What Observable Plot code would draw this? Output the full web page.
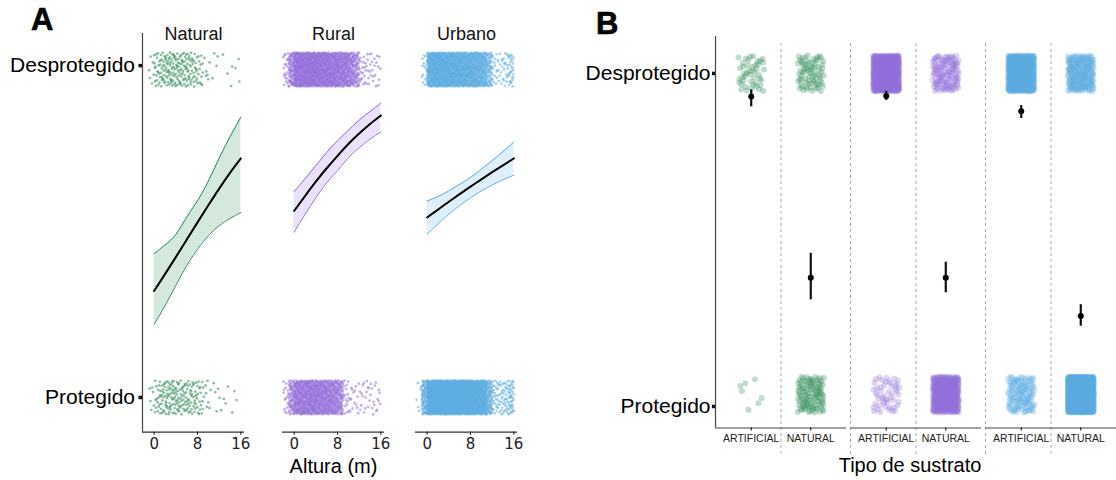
<!DOCTYPE html>
<html><head><meta charset="utf-8">
<script src="https://cdn.jsdelivr.net/npm/d3@7"></script>
<script src="https://cdn.jsdelivr.net/npm/@observablehq/plot@0.6"></script>
<style>
body{margin:0;background:#fff;}
#wrap{position:relative;width:1116px;height:480px;overflow:hidden;font-family:"Liberation Sans",Arial,sans-serif;}
#wrap svg{position:absolute;top:0;}
.letter{position:absolute;font-weight:bold;font-size:31px;line-height:1;color:#000;-webkit-text-stroke:0.6px #000;}
</style></head><body><div id="wrap"></div>
<script>
// ================= DATA =================
const ambientes = ["Natural", "Rural", "Urbano"];
const colores = ["#2e8b57", "#9370db", "#5dade2"];
const etiquetasY = ["Protegido", "Desprotegido"];

// Panel A: fitted probability (Desprotegido) vs Altura (m), with confidence band
const alturaCurva = [0, 2, 4, 6, 8, 10, 12, 14, 16];
const naturalAjuste = [0.325, 0.376, 0.428, 0.481, 0.534, 0.586, 0.637, 0.685, 0.729];
const naturalInf    = [0.223, 0.280, 0.342, 0.402, 0.452, 0.493, 0.524, 0.546, 0.564];
const naturalSup    = [0.438, 0.465, 0.497, 0.550, 0.600, 0.660, 0.730, 0.795, 0.855];
const ruralAjuste   = [0.569, 0.614, 0.658, 0.699, 0.737, 0.773, 0.805, 0.834, 0.860];
const ruralInf      = [0.504, 0.558, 0.609, 0.655, 0.692, 0.731, 0.762, 0.788, 0.810];
const ruralSup      = [0.628, 0.667, 0.707, 0.747, 0.783, 0.815, 0.846, 0.872, 0.898];
const urbanoAjuste  = [0.549, 0.573, 0.597, 0.620, 0.643, 0.665, 0.687, 0.708, 0.729];
const urbanoInf     = [0.498, 0.529, 0.559, 0.585, 0.609, 0.630, 0.648, 0.664, 0.678];
const urbanoSup     = [0.599, 0.613, 0.630, 0.650, 0.671, 0.696, 0.722, 0.750, 0.779];

// Panel A: number of observed nests per 1 m height bin (bin start, metres)
const alturaBin = [-2, -1, 0, 1, 2, 3, 4, 5, 6, 7, 8, 9, 10, 11, 12, 13, 14, 15];
const naturalDesprotegidoN = [0, 6, 16, 22, 25, 27, 25, 24, 22, 18, 12, 6, 3, 2, 1, 1, 2, 3];
const naturalProtegidoN    = [0, 5, 14, 20, 24, 24, 22, 22, 20, 18, 14, 6, 4, 3, 3, 2, 2, 2];
const ruralDesprotegidoN   = [20, 70, 130, 135, 135, 135, 130, 125, 120, 115, 110, 100, 85, 60, 15, 12, 10, 8];
const ruralProtegidoN      = [15, 60, 100, 105, 105, 105, 100, 100, 95, 90, 70, 15, 10, 8, 8, 8, 8, 8];
const urbanoDesprotegidoN  = [0, 15, 130, 140, 140, 140, 135, 130, 130, 125, 120, 110, 100, 60, 15, 12, 15, 28];
const urbanoProtegidoN     = [5, 80, 190, 200, 200, 200, 195, 190, 185, 180, 175, 165, 150, 80, 25, 22, 28, 40];

// Panel B: substrate type
const sustratos = ["ARTIFICIAL", "NATURAL"];
const naturalDesprotegidoB = [45, 75],  naturalProtegidoB = [7, 110];
const ruralDesprotegidoB   = [800, 130], ruralProtegidoB  = [50, 450];
const urbanoDesprotegidoB  = [800, 220], urbanoProtegidoB = [130, 1400];
const naturalEstB = [0.928, 0.364], naturalInfB = [0.896, 0.295], naturalSupB = [0.949, 0.440];
const ruralEstB   = [0.930, 0.364], ruralInfB   = [0.916, 0.317], ruralSupB   = [0.944, 0.412];
const urbanoEstB  = [0.882, 0.245], urbanoInfB  = [0.860, 0.213], urbanoSupB  = [0.900, 0.280];
const ticksAltura = [0, 8, 16];
const ticksYA = [0, 1.012];
const ticksYB = [1, -0.037];

// ================= BUILD =================
const wrap = document.getElementById("wrap");
// deterministic jitter layout (Halton sequence), like geom_jitter without randomness
function halton(i, b) { let f = 1, r = 0; while (i > 0) { f /= b; r += f * (i % b); i = Math.floor(i / b); } return r; }
let seq = 17;
function jitter() { seq++; return [halton(seq, 2), halton(seq, 3)]; }
// place the points of a histogram along x (inverse cumulative of the bin counts)
function cloud(bins, counts, width) {
  const total = d3.sum(counts), cum = d3.cumsum(counts);
  const out = [];
  for (let n = 0; n < total; n++) {
    const [u, v] = jitter();
    const t = u * total;
    let k = d3.bisectRight(cum, t); if (k >= counts.length) k = counts.length - 1;
    const low = k ? cum[k - 1] : 0;
    out.push({x: bins[k] + width * (t - low) / counts[k], v});
  }
  return out;
}

const curvas = [
  [naturalAjuste, naturalInf, naturalSup],
  [ruralAjuste, ruralInf, ruralSup],
  [urbanoAjuste, urbanoInf, urbanoSup]
];
const nubesA = [
  [naturalProtegidoN, naturalDesprotegidoN],
  [ruralProtegidoN, ruralDesprotegidoN],
  [urbanoProtegidoN, urbanoDesprotegidoN]
];
const xDomA = [-2.15, 16.67];
const yDomA = [-0.106, 1.11];
const halfJA = 0.052;
const layoutA = [{left: 0, ml: 142}, {left: 262, ml: 20}, {left: 395, ml: 20}];

ambientes.forEach((amb, i) => {
  const curve = alturaCurva.map((x, k) => ({x, fit: curvas[i][0][k], lo: curvas[i][1][k], hi: curvas[i][2][k]}));
  const pts = [];
  nubesA[i].forEach((counts, outcome) => {
    cloud(alturaBin, counts, 1).forEach(p => pts.push({x: p.x, y: outcome + (2 * p.v - 1) * halfJA}));
  });
  const {left, ml} = layoutA[i];
  const marks = [
    Plot.dot(pts, {x: "x", y: "y", r: 1.35, fill: colores[i], fillOpacity: 0.55}),
    Plot.areaY(curve, {x: "x", y1: "lo", y2: "hi", fill: colores[i], fillOpacity: 0.2, curve: "natural"}),
    Plot.line(curve, {x: "x", y: "lo", stroke: colores[i], strokeWidth: 1, curve: "natural"}),
    Plot.line(curve, {x: "x", y: "hi", stroke: colores[i], strokeWidth: 1, curve: "natural"}),
    Plot.line(curve, {x: "x", y: "fit", stroke: "#000", strokeWidth: 2, curve: "natural"}),
    Plot.ruleY([yDomA[0]], {stroke: "#333", strokeWidth: 1.2}),
    Plot.axisX({ticks: ticksAltura, tickSize: 3, tickPadding: 3, fontSize: 15, fontFamily: "DejaVu Sans", fill: "#222", label: null}),
    Plot.text([amb], {frameAnchor: "top", text: d => d, lineAnchor: "middle", dy: 1, fontSize: 18, fill: "#111"})
  ];
  if (i === 0) {
    marks.push(Plot.ruleX([xDomA[0]], {stroke: "#444", strokeWidth: 1.2}));
    marks.push(Plot.axisY({ticks: ticksYA, tickFormat: (d, k) => etiquetasY[k], tickSize: 3.5, strokeWidth: 3.5, stroke: "#111", tickPadding: 4, fontSize: 21, fill: "#000", label: null}));
  } else {
    marks.push(Plot.axisY({ticks: [], label: null}));
  }
  if (i === 1) marks.push(Plot.text(["Altura (m)"], {frameAnchor: "bottom", text: d => d, lineAnchor: "middle", dy: 34, fontSize: 20, fill: "#000"}));
  const svg = Plot.plot({
    width: ml + 102 + 24, height: 480,
    marginLeft: ml, marginRight: 24, marginTop: 33, marginBottom: 48.3,
    x: {domain: xDomA}, y: {domain: yDomA},
    style: {fontFamily: "Liberation Sans, Arial, sans-serif", background: "transparent", overflow: "visible"},
    marks
  });
  svg.style.left = left + "px";
  wrap.appendChild(svg);
});

// Panel B
const nubesB = [
  [naturalProtegidoB, naturalDesprotegidoB],
  [ruralProtegidoB, ruralDesprotegidoB],
  [urbanoProtegidoB, urbanoDesprotegidoB]
];
const estB = [[naturalEstB, naturalInfB, naturalSupB], [ruralEstB, ruralInfB, ruralSupB], [urbanoEstB, urbanoInfB, urbanoSupB]];
const xDomB = [0.4, 2.6];
const yDomB = [-0.104, 1.115];
const halfJxB = 0.22, halfJyB = 0.056;
const ptsB = [], est = [];
ambientes.forEach((amb, i) => {
  sustratos.forEach((s, j) => {
    nubesB[i].forEach((counts, outcome) => {
      for (let k = 0; k < counts[j]; k++) {
        const [u, v] = jitter();
        ptsB.push({amb, i, x: j + 1 + (2 * u - 1) * halfJxB, y: outcome + (2 * v - 1) * halfJyB});
      }
    });
    est.push({amb, x: j + 1, est: estB[i][0][j], lo: estB[i][1][j], hi: estB[i][2][j]});
  });
});
const svgB = Plot.plot({
  width: 1116, height: 480,
  marginLeft: 715.3, marginRight: 0, marginTop: 36, marginBottom: 52.5,
  fx: {domain: ambientes, paddingInner: 0.032, paddingOuter: 0, axis: null},
  x: {domain: xDomB},
  y: {domain: yDomB},
  style: {fontFamily: "Liberation Sans, Arial, sans-serif", background: "transparent", overflow: "visible"},
  marks: [
    Plot.ruleX([1.5], {stroke: "#aaa", strokeWidth: 1, strokeDasharray: "3,3", insetTop: 7, insetBottom: -28}),
    Plot.ruleX([{amb: "Rural"}, {amb: "Urbano"}], {fx: "amb", x: () => xDomB[0], stroke: "#aaa", strokeWidth: 1, strokeDasharray: "3,3", insetTop: 7, insetBottom: -28}),
    Plot.dot(ptsB, {fx: "amb", x: "x", y: "y", r: 3, fill: d => colores[d.i], fillOpacity: 0.3}),
    Plot.ruleX(est, {fx: "amb", x: "x", y1: "lo", y2: "hi", stroke: "#111", strokeWidth: 2.2}),
    Plot.dot(est, {fx: "amb", x: "x", y: "est", r: 3, fill: "#000"}),
    Plot.ruleY([yDomB[0]], {stroke: "#444", strokeWidth: 1.2}),
    Plot.ruleX([{amb: "Natural"}], {fx: "amb", x: () => xDomB[0], stroke: "#444", strokeWidth: 1.2}),
    Plot.axisX({ticks: [1, 2], tickFormat: d => sustratos[d - 1], tickSize: 3, tickPadding: 4, fontSize: 10.5, fill: "#222", label: null}),
    Plot.axisY({ticks: ticksYB, tickFormat: d => (d === 1 ? "Desprotegido" : "Protegido"), tickSize: 3, strokeWidth: 3.5, stroke: "#111", tickPadding: 2, fontSize: 21, fill: "#000", label: null}),
    Plot.text([{amb: "Rural"}], {fx: "amb", text: () => "Tipo de sustrato", frameAnchor: "bottom", lineAnchor: "middle", dy: 38, dx: -6, fontSize: 20, fill: "#000"})
  ]
});
svgB.style.left = "0px";
wrap.appendChild(svgB);

// panel letters
[["A", 31, 4], ["B", 596, 8]].forEach(([t, x, y]) => {
  const d = document.createElement("div");
  d.className = "letter"; d.textContent = t;
  d.style.left = x + "px"; d.style.top = y + "px";
  wrap.appendChild(d);
});
</script></body></html>
